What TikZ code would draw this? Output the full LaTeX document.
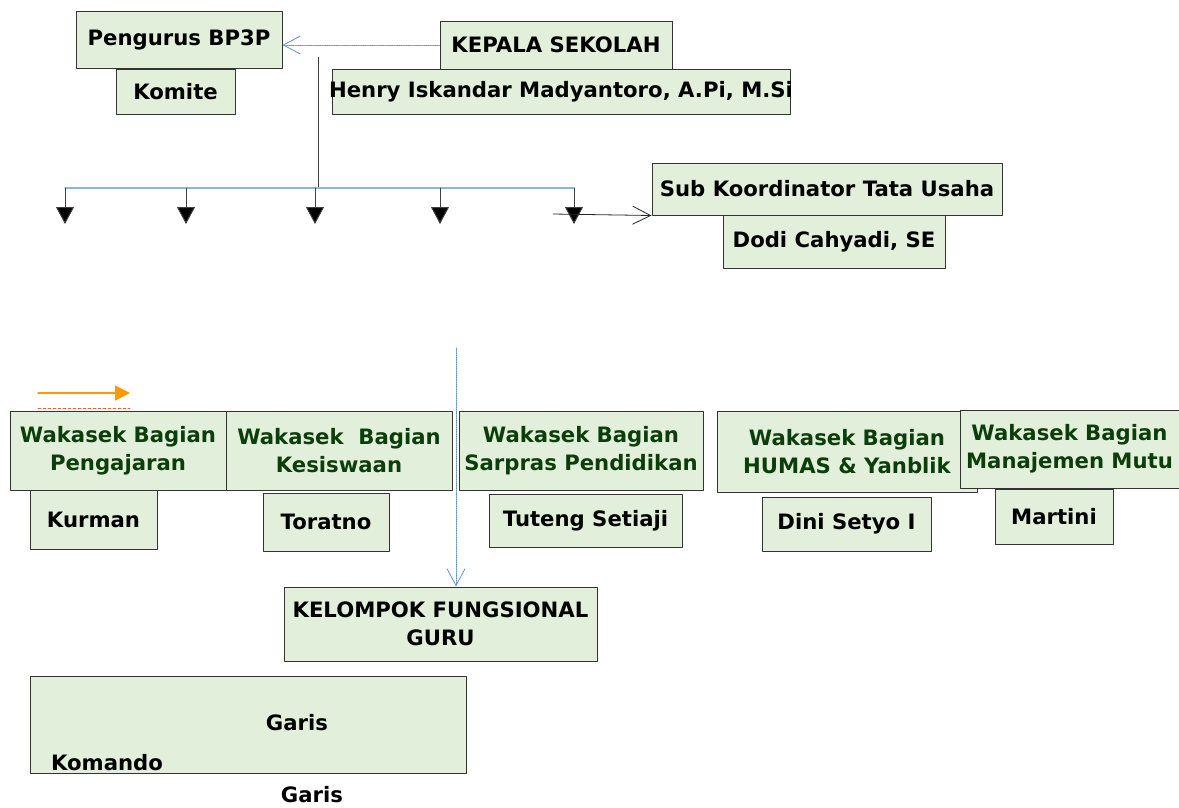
\documentclass[tikz,border=0pt]{standalone}
\usepackage{fontspec}
\setmainfont{DejaVu Sans}
\usetikzlibrary{arrows.meta}
\definecolor{boxgreen}{RGB}{226,239,218}
\definecolor{wakagreen}{RGB}{12,62,12}
\definecolor{lineblue}{RGB}{141,179,226}
\definecolor{dotblue}{RGB}{96,146,214}
\definecolor{legendorange}{RGB}{255,153,0}
\definecolor{legendred}{RGB}{240,100,60}
\tikzset{
  orgbox/.style={draw=black!80, line width=1pt, fill=boxgreen, inner sep=0pt, align=center,
    font=\fontsize{21.2}{28}\selectfont\bfseries},
  wakabox/.style={orgbox, text=wakagreen},
  plaintext/.style={inner sep=0pt, font=\fontsize{21.2}{28}\selectfont\bfseries},
  downarrow/.style={-{Triangle[length=17pt,width=18pt,fill=black]}, line width=1pt, black!75},
  openblue/.style={-{Straight Barb[length=17pt,width=18pt]}, dotblue, densely dotted, line width=0.8pt}
}
\begin{document}
\begin{tikzpicture}[line cap=round,line join=round,x=1pt,y=-1pt]
\useasboundingbox (0,0) rectangle (1179,807);
\node[orgbox, minimum width=206, minimum height=57] (pengurus) at (179,39.5) {Pengurus BP3P};
\node[orgbox, minimum width=119, minimum height=45] (komite) at (175.5,91.5) {Komite};
\node[orgbox, minimum width=232, minimum height=48] (kepala) at (556,45) {KEPALA SEKOLAH};
\node[orgbox, minimum width=458, minimum height=45] (henry) at (561,91.5) {\makebox[0pt]{Henry Iskandar Madyantoro, A.Pi, M.Si}};
\node[orgbox, minimum width=350, minimum height=52] (subtu) at (827,189) {Sub Koordinator Tata Usaha};
\node[orgbox, minimum width=222, minimum height=53] (dodi) at (834,241.5) {Dodi Cahyadi, SE};

\node[wakabox, minimum width=216, minimum height=79] (pengajaran) at (118,450.5) {Wakasek Bagian\\Pengajaran};
\node[wakabox, minimum width=226, minimum height=79] (kesiswaan) at (339,450.5) {Wakasek\ \ Bagian\\Kesiswaan};
\node[wakabox, minimum width=244, minimum height=79] (sarpras) at (581,450.5) {Wakasek Bagian\\Sarpras Pendidikan};
\node[wakabox, minimum width=260, minimum height=81] (humas) at (847,451.5) {Wakasek Bagian\\HUMAS \& Yanblik};
\node[wakabox, minimum width=219, minimum height=78] (mutu) at (1069.5,449) {Wakasek Bagian\\Manajemen Mutu};

\node[orgbox, minimum width=127, minimum height=59] (kurman) at (93.5,519.5) {Kurman};
\node[orgbox, minimum width=126, minimum height=58] (toratno) at (326,522) {Toratno};
\node[orgbox, minimum width=193, minimum height=53] (tuteng) at (585.5,520.5) {Tuteng Setiaji};
\node[orgbox, minimum width=169, minimum height=54] (dini) at (846.5,524) {Dini Setyo I};
\node[orgbox, minimum width=118, minimum height=55] (martini) at (1054,516.5) {Martini};

\node[orgbox, minimum width=313, minimum height=74] (guru) at (440.5,624) {KELOMPOK FUNGSIONAL\\GURU};
\node[orgbox, minimum width=436, minimum height=97] (garisbox) at (248,724.5) {};
\node[plaintext] (garis1) at (297,723) {Garis};
\node[plaintext] (komando) at (107,763) {Komando};
\node[plaintext] (garis2) at (312,795) {Garis};

\draw[openblue] (kepala.west) -- (kepala.west -| pengurus.east);

\coordinate (trunk) at (318,57);
\coordinate (bus) at (318,188);
\coordinate (busleft) at (65,188);
\coordinate (busright) at (574,188);
\draw[black!75, line width=1pt] (trunk) -- (bus);
\draw[lineblue, line width=1.3pt] (busleft) -- (busright);
\foreach \x in {65,186,315,440,574}
  \draw[downarrow] (\x,188) -- (\x,224);

\coordinate (tustart) at (553,214);
\draw[black!85, line width=0.8pt, -{Straight Barb[length=18pt,width=18pt]}] (tustart) -- (subtu.south west);

\coordinate (gurutop) at (456,348);
\draw[openblue] (gurutop) -- (gurutop |- guru.north);

\coordinate (legendA) at (38,393);
\coordinate (legendB) at (130,393);
\coordinate (legendC) at (38,408);
\coordinate (legendD) at (130,408);
\draw[legendorange, line width=1.3pt, -{Triangle[length=15pt,width=15pt]}] (legendA) -- (legendB);
\draw[legendred, densely dashed, line width=0.6pt] (legendC) -- (legendD);
\end{tikzpicture}
\end{document}
